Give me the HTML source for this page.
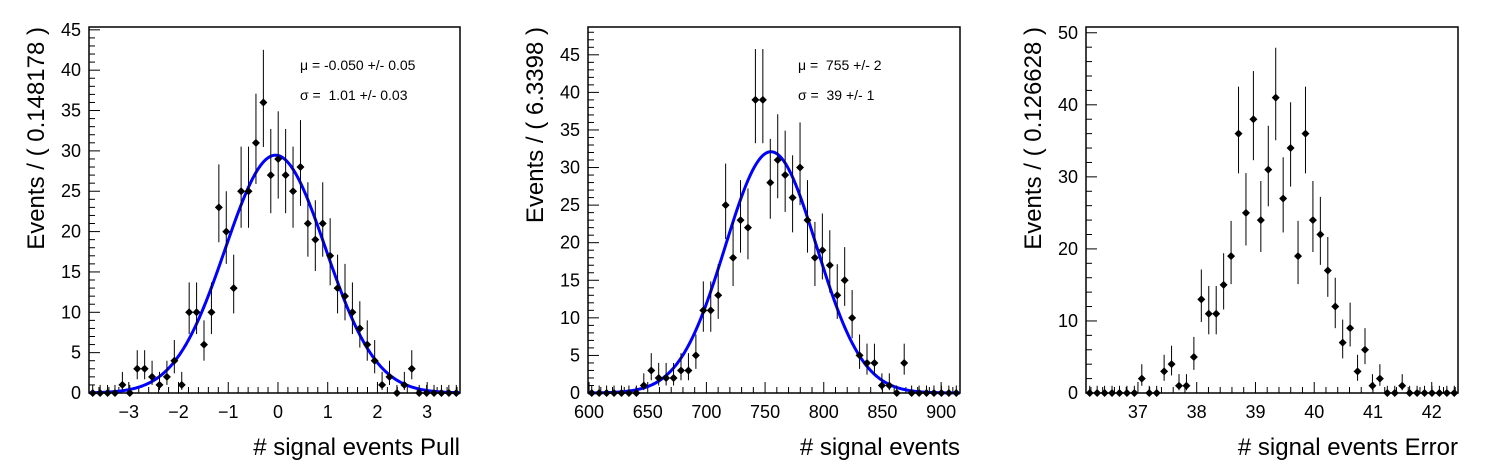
<!DOCTYPE html>
<html><head><meta charset="utf-8"><style>
html,body{margin:0;padding:0;background:#fff;}
svg{display:block;font-family:"Liberation Sans",Arial,sans-serif;}
</style></head><body>
<svg id="chart" width="1496" height="472" viewBox="0 0 1496 472"></svg>
<script>
// ---- data ----
const pullCounts = [0,0,0,0,1,0,3,3,2,1,2,4,1,10,10,6,10,23,20,13,25,25,31,36,27,29,27,25,28,21,19,21,17,13,12,10,8,6,4,1,2,0,1,3,0,0,0,0,0,0];
const signalCounts = [0,0,0,0,0,0,0,1,3,2,2,2,3,3,5,11,11,13,25,18,23,22,39,39,28,31,29,26,30,23,18,19,17,13,15,10,5,4,4,1,1,0,4,0,0,0,0,0,0,0];
const errorCounts = [0,0,0,0,0,0,0,2,0,0,3,4,1,1,5,13,11,11,15,19,36,25,38,24,31,41,27,34,19,36,24,22,17,12,7,9,3,6,1,2,0,0,1,0,0,0,0,0,0,0];
const pullXTicks = [-3,-2,-1,0,1,2,3];
const signalXTicks = [600,650,700,750,800,850,900];
const errorXTicks = [37,38,39,40,41,42];
const pullYTicks = [0,5,10,15,20,25,30,35,40,45];
const signalYTicks = [0,5,10,15,20,25,30,35,40,45];
const errorYTicks = [0,10,20,30,40,50];
const pullFit = [-0.050, 1.01, 500];
const signalFit = [755, 39, 495];

const svg = document.getElementById('chart');
const NS = 'http://www.w3.org/2000/svg';
function mk(tag, attrs, parent){
  const e = document.createElementNS(NS, tag);
  for (const k in attrs) e.setAttribute(k, attrs[k]);
  (parent||svg).appendChild(e);
  return e;
}

function panel(cfg){
  const g = mk('g', {});
  
  
  const L=cfg.left, R=cfg.right, T=27, B=393;
  const sx = v => L + (v-cfg.xmin)/(cfg.xmax-cfg.xmin)*(R-L);
  const sy = v => B - (v-0)/(cfg.ymax)*(B-T);
  const frame = mk('rect', {x:L, y:T, width:R-L, height:B-T, fill:'none', stroke:'#000', 'stroke-width':1.5}, g);
  
  
  for (let v=0; v<=cfg.ymax+1e-9; v+=cfg.yMinor){
    const major = Math.abs(v/cfg.yMajor - Math.round(v/cfg.yMajor))<1e-6;
    mk('line', {x1:L, x2:L+(major?11:6), y1:sy(v), y2:sy(v), stroke:'#000', 'stroke-width':1}, g);
  }
  cfg.yTicks.forEach(v=>{
    const t = mk('text', {x:L-8, y:sy(v)+6, 'text-anchor':'end', 'font-size':18}, g);
    t.textContent = v;
    
    
  });
  const start = Math.ceil(cfg.xmin/cfg.xMinor)*cfg.xMinor;
  for (let v=start; v<=cfg.xmax; v+=cfg.xMinor){
    const major = Math.abs(v/cfg.xMajor - Math.round(v/cfg.xMajor))<1e-6;
    mk('line', {x1:sx(v), x2:sx(v), y1:B, y2:B-(major?11:6), stroke:'#000', 'stroke-width':1}, g);
  }
  cfg.xTicks.forEach(v=>{
    const t = mk('text', {x:sx(v), y:B+25, 'text-anchor':'middle', 'font-size':18}, g);
    t.textContent = v<0 ? '\u2212'+(-v) : v;
    
    
  });
  const xt = mk('text', {x:R, y:455, 'text-anchor':'end', 'font-size':24}, g);
  xt.textContent = cfg.xTitle;
  
  
  const yx = L-45;
  const yt = mk('text', {x:yx, y:T, 'text-anchor':'end', 'font-size':24, transform:`rotate(-90 ${yx} ${T})`}, g);
  yt.textContent = cfg.yTitle;
  
  
  const bw = (cfg.xmax-cfg.xmin)/cfg.counts.length;
  if (cfg.fit){
    const [mu,sig,N]=cfg.fit;
    let d='';
    for (let i=0;i<=400;i++){
      const x = cfg.xmin + (cfg.xmax-cfg.xmin)*i/400;
      const y = N*bw/(sig*Math.sqrt(2*Math.PI))*Math.exp(-0.5*((x-mu)/sig)**2);
      d += (i?'L':'M')+sx(x).toFixed(2)+','+sy(y).toFixed(2);
    }
    const c = mk('path', {d, fill:'none', stroke:'#0000ff', 'stroke-width':3}, g);
    
    
  }
  cfg.counts.forEach((n,i)=>{
    const x = cfg.xmin + bw*(i+0.5);
    const hi = n + 0.5 + Math.sqrt(n+0.25);
    const lo = n===0 ? 0 : n + 0.5 - Math.sqrt(n+0.25);
    const eb = mk('line', {x1:sx(x), x2:sx(x), y1:sy(lo), y2:sy(hi), stroke:'#000', 'stroke-width':1}, g);
    
    
    const px=sx(x), py=sy(n), r=4;
    const p = mk('polygon', {points:`${px},${py-r} ${px+r},${py} ${px},${py+r} ${px-r},${py}`, fill:'#000'}, g);
    
    
  });
  if (cfg.stats){
    cfg.stats.forEach((s,k)=>{
      const t = mk('text', {x:cfg.statsX, y:70+30*k, 'font-size':14, style:'white-space:pre'}, g);
      t.textContent = s;
      
      
    });
  }
}

panel({name:'pull-panel', left:89, right:460, xmin:-3.80, xmax:3.66, ymax:45.35,
  xMajor:1, xMinor:0.2, yMajor:5, yMinor:1, xTicks:pullXTicks, yTicks:pullYTicks,
  counts:pullCounts, fit:pullFit, xTitle:'# signal events Pull', yTitle:'Events / ( 0.148178 )',
  stats:['\u03bc = -0.050 +/- 0.05','\u03c3 =  1.01 +/- 0.03'], statsX:300});
panel({name:'signal-panel', left:588, right:960, xmin:599.1, xmax:916.1, ymax:48.7,
  xMajor:50, xMinor:10, yMajor:5, yMinor:1, xTicks:signalXTicks, yTicks:signalYTicks,
  counts:signalCounts, fit:signalFit, xTitle:'# signal events', yTitle:'Events / ( 6.3398 )',
  stats:['\u03bc =  755 +/- 2','\u03c3 =  39 +/- 1'], statsX:798});
panel({name:'error-panel', left:1086, right:1458, xmin:36.116, xmax:42.447, ymax:50.8,
  xMajor:1, xMinor:0.2, yMajor:10, yMinor:2, xTicks:errorXTicks, yTicks:errorYTicks,
  counts:errorCounts, fit:null, xTitle:'# signal events Error', yTitle:'Events / ( 0.126628 )'});
</script>
</body></html>
